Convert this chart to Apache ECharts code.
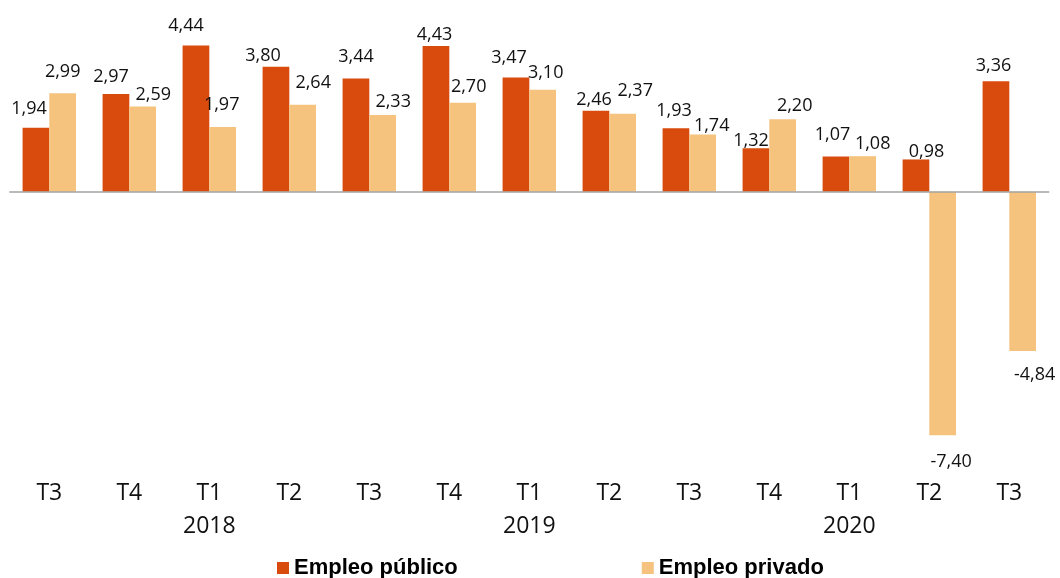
<!DOCTYPE html>
<html>
<head>
<meta charset="utf-8">
<script src="https://cdn.jsdelivr.net/npm/echarts@6/dist/echarts.min.js"></script>
<style>
html,body{margin:0;padding:0;background:#fff;}
#chart{width:1060px;height:578px;}
</style>
</head>
<body>
<div id="chart"></div>
<script>
// Data
const quarters = ['T3','T4','T1','T2','T3','T4','T1','T2','T3','T4','T1','T2','T3'];
const years    = ['',  '',  '2018','', '', '', '2019','', '', '', '2020','', ''];
const publico  = [1.94, 2.97, 4.44, 3.80, 3.44, 4.43, 3.47, 2.46, 1.93, 1.32, 1.07, 0.98, 3.36];
const privado  = [2.99, 2.59, 1.97, 2.64, 2.33, 2.70, 3.10, 2.37, 1.74, 2.20, 1.08, -7.40, -4.84];
const seriesNames = ['Empleo público', 'Empleo privado'];

// Label placement tweaks (style only)
const pubDx  = [-7, -5, -10, -13, 0, -1.5, -7, -2, -2, -5, -3.5, 10.5, -2.5];
const pubGap = [21, 19, 22, 13, 24, 13, 22, 13, 19, 9, 24, 10, 17];
const priDx  = [0, 10.7, -1, 10.5, 10.5, 6, 3, 12.5, 9, 12, 10, 8.4, 12];
const priGap = [23, 13.7, 24, 24, 15, 18, 18.5, 25, 11, 15, 14.5, 24.5, 21.5];

const categories = quarters.map((q, i) => years[i] ? q + '\n' + years[i] : q);

function build(values, dxs, gaps) {
  return values.map((v, i) => ({
    value: v,
    label: {
      position: v < 0 ? 'bottom' : 'top',
      distance: 0,
      offset: [dxs[i], (v < 0 ? gaps[i] - 9 : 9 - gaps[i]) + 2]
    }
  }));
}

const labelStyle = {
  show: true,
  fontFamily: 'Open Sans',
  fontSize: 18,
  lineHeight: 18,
  color: '#111',
  formatter: p => p.value.toFixed(2).replace('.', ',')
};

const chart = echarts.init(document.getElementById('chart'), null, {renderer: 'canvas'});
chart.setOption({
  animation: false,
  backgroundColor: '#fff',
  grid: {left: 9.3, right: 10.7, top: 27.2, bottom: 123.1, containLabel: false},
  legend: {
    data: seriesNames,
    left: 277, top: 557,
    icon: 'rect', itemWidth: 12, itemHeight: 12, itemGap: 184, padding: 0,
    textStyle: {fontFamily: 'Liberation Sans', fontWeight: 'bold', fontSize: 22, color: '#000'}
  },
  xAxis: {
    type: 'category',
    data: categories,
    axisLine: {show: false, onZero: false},
    axisTick: {show: false},
    axisLabel: {interval: 0, fontFamily: 'Open Sans', fontSize: 23, lineHeight: 33, color: '#111', margin: 22}
  },
  yAxis: {
    type: 'value', min: -8, max: 5, show: false,
    splitLine: {show: false}
  },
  series: [
    {
      name: seriesNames[0], type: 'bar',
      data: build(publico, pubDx, pubGap),
      barWidth: 26.7, barGap: '0%',
      itemStyle: {color: '#D84B0C'},
      label: labelStyle,
      markLine: {
        silent: true, symbol: 'none', label: {show: false},
        lineStyle: {color: '#a3a3a3', width: 1.5, type: 'solid'},
        data: [{yAxis: 0}]
      }
    },
    {
      name: seriesNames[1], type: 'bar',
      data: build(privado, priDx, priGap),
      barWidth: 26.7, barGap: '0%',
      itemStyle: {color: '#F5C37E'},
      label: labelStyle
    }
  ]
});
</script>
</body>
</html>
